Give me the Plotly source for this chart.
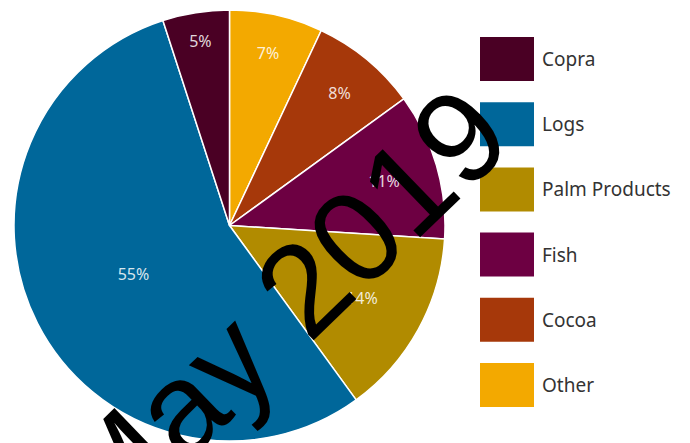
import plotly.graph_objects as go

W, H = 690, 443

categories = ["Copra", "Logs", "Palm Products", "Fish", "Cocoa", "Other"]
values = [5, 55, 14, 11, 8, 7]
colors = ["#4a0024", "#00679a", "#b18b00", "#6d0042", "#a6380a", "#f3a900"]

watermark = "May 2019"

def px_x(x):
    return x / W

def px_y(y):
    return 1 - y / H

fig = go.Figure()
fig.add_trace(go.Pie(
    labels=categories[::-1],
    values=values[::-1],
    sort=False,
    direction="clockwise",
    rotation=0,
    marker=dict(colors=colors[::-1], line=dict(color="white", width=1.5)),
    textinfo="percent",
    texttemplate="%{percent:.0%}",
    textposition="inside",
    insidetextorientation="horizontal",
    textfont=dict(color="rgba(255,255,255,0.85)", size=16, family="Noto Sans"),
    domain=dict(x=[px_x(14), px_x(445)], y=[px_y(441), px_y(10)]),
    showlegend=False,
    hoverinfo="label+percent",
))

# custom legend with large square swatches
top0, step, sh, sw, sx = 37, 65.2, 44, 54, 480
for i, (cat, col) in enumerate(zip(categories, colors)):
    y0 = top0 + i * step
    fig.add_shape(type="rect", xref="paper", yref="paper",
                  x0=px_x(sx), x1=px_x(sx + sw), y0=px_y(y0 + sh), y1=px_y(y0),
                  fillcolor=col, line=dict(width=0))
    fig.add_annotation(text=cat, xref="paper", yref="paper",
                       x=px_x(540), y=px_y(y0 + sh / 2), xanchor="left", yanchor="middle",
                       showarrow=False, font=dict(size=19, color="#333333", family="Noto Sans"))

fig.add_annotation(text=watermark, xref="paper", yref="paper",
                   x=px_x(280), y=px_y(310), xanchor="center", yanchor="middle",
                   showarrow=False, textangle=-44,
                   font=dict(size=130, color="black", family="Liberation Sans"))

fig.update_layout(
    width=W, height=H,
    margin=dict(l=0, r=0, t=0, b=0),
    paper_bgcolor="white",
    plot_bgcolor="white",
)

fig.write_html("out.html")
